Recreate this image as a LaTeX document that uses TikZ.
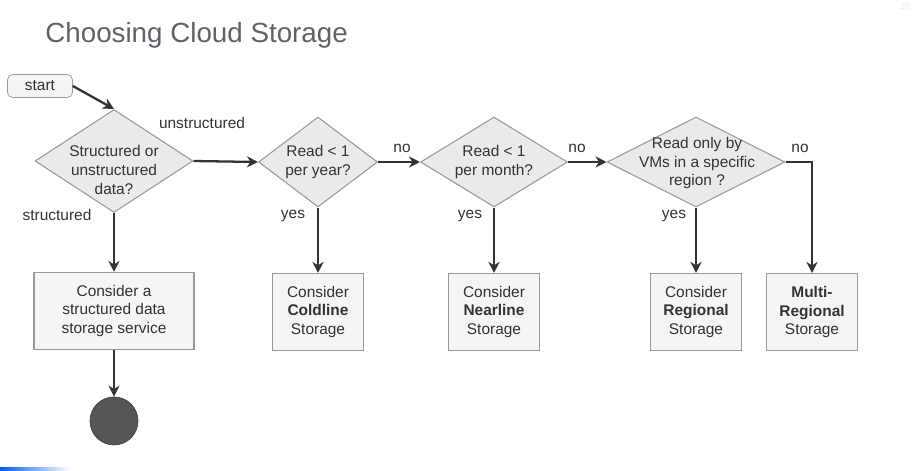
\documentclass[tikz,border=0pt]{standalone}
\usepackage{fontspec}
\setmainfont{Liberation Sans}
\usetikzlibrary{shapes.geometric,arrows.meta,positioning}
\definecolor{inkgray}{HTML}{333333}
\definecolor{titlegray}{HTML}{5F6368}
\definecolor{edgegray}{HTML}{9A9A9A}
\definecolor{diafill}{HTML}{EAEAEA}
\definecolor{boxfill}{HTML}{F5F5F6}
\definecolor{endfill}{HTML}{555555}

\begin{document}
\begin{tikzpicture}[x=0.02cm, y=-0.02cm, node distance={3cm},
    font=\fontsize{8.8}{10.7}\selectfont, text=inkgray,
    decision/.style = {draw=edgegray, fill=diafill, diamond, inner sep=0pt, line width=0.6pt},
    question/.style = {align=center, inner sep=0pt},
    choice/.style = {draw=edgegray, fill=boxfill, align=center, inner sep=0pt, line width=0.6pt,
                     minimum width=1.82cm, minimum height=1.54cm},
    branch/.style = {inner sep=0pt},
    flow/.style = {draw=inkgray, line width=1.3pt, -{Stealth[length=2.2mm,width=2.2mm,inset=0.7mm]}}]
    \useasboundingbox (0,0) rectangle (915,470);

    \node[anchor=west, inner sep=0pt, text=titlegray, font=\fontsize{15.8}{19}\selectfont] (title) at (45,35) {Choosing Cloud Storage};
    \node[text=black!8, font=\fontsize{5}{6}\selectfont] (page) at (905,6) {20};

    \node[draw=edgegray, fill=boxfill, rounded corners=3pt, minimum width=1.3cm, minimum height=0.46cm, inner sep=0pt] (start) at (40,86) {start};

    % questions
    \node[decision, minimum width=3.16cm, minimum height=2.06cm] (q1) at (114,161) {};
    \node[question] (q1txt) at (114,170) {Structured or\\unstructured\\data?};
    \node[decision, minimum width=2.38cm, minimum height=1.8cm] (q2) at (318,162) {};
    \node[question] (q2txt) at (318,162) {Read < 1\\per year?};
    \node[decision, minimum width=2.94cm, minimum height=1.8cm] (q3) at (494,162) {};
    \node[question] (q3txt) at (494,162) {Read < 1\\per month?};
    \node[decision, minimum width=3.56cm, minimum height=1.8cm] (q4) at (696,162) {};
    \node[question] (q4txt) at (697,163) {Read only by\\VMs in a specific\\region ?};

    % answers
    \node[choice, minimum width=3.2cm] (b1) [below of=q1] {Consider a\\structured data\\storage service};
    \node[choice] (b2) [below of=q2] {Consider\\\textbf{Coldline}\\Storage};
    \node[choice] (b3) [below of=q3] {Consider\\\textbf{Nearline}\\Storage};
    \node[choice] (b4) [below of=q4] {Consider\\\textbf{Regional}\\Storage};
    \node[choice] (b5) at (812,312) {\textbf{Multi-}\\\textbf{Regional}\\Storage};
    \node[draw=endfill!80!black, fill=endfill, circle, minimum size=0.96cm, inner sep=0pt] (stop) [below of=b1, node distance=2.2cm] {};

    % branch labels
    \node[branch] (unstr) at (202,123) {unstructured};
    \node[branch] (str) at (57,215) {structured};
    \node[branch] (no1) at (402,148) {no};
    \node[branch] (no2) at (577,148) {no};
    \node[branch] (no3) at (800,148) {no};
    \node[branch] (yes1) at (293,216) {yes};
    \node[branch] (yes2) at (470,216) {yes};
    \node[branch] (yes3) at (674,216) {yes};

    \draw[flow] (start.east) -- (q1.north);
    \draw[flow] (q1.south) -- (b1.north);
    \draw[flow] (b1.south) -- (stop.north);
    \draw[flow] (q1.east) -- (q2.west);
    \draw[flow] (q2.east) -- (q3.west);
    \draw[flow] (q3.east) -- (q4.west);
    \draw[flow] (q2.south) -- (b2.north);
    \draw[flow] (q3.south) -- (b3.north);
    \draw[flow] (q4.south) -- (b4.north);
    \draw[flow] (q4.east) -| (b5.north);

    \shade[left color=blue!65!cyan, right color=white] (0,467) rectangle (70,470);
\end{tikzpicture}
\end{document}
